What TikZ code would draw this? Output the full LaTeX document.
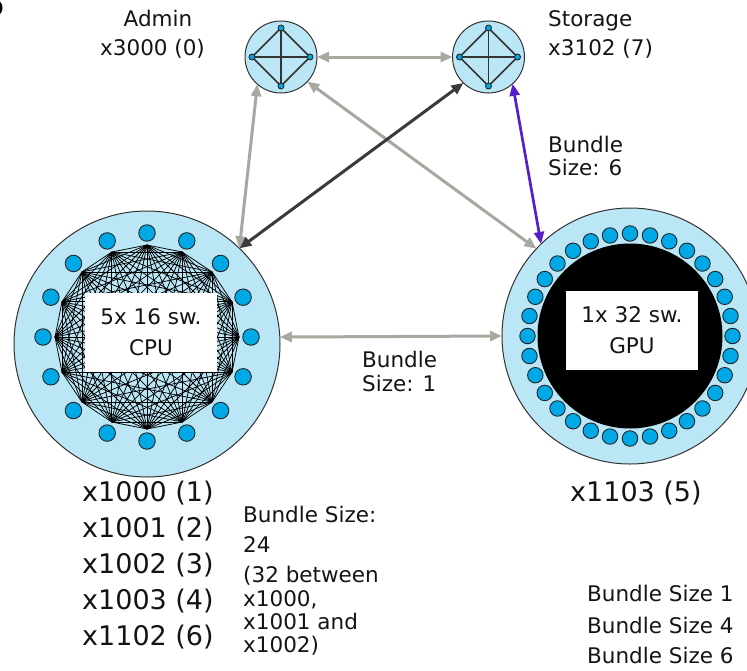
\documentclass[tikz,border=0pt]{standalone}
\usepackage{fontspec}
\setmainfont{DejaVu Sans}
\usetikzlibrary{arrows.meta,calc}

\definecolor{ringfill}{RGB}{186,230,245}
\definecolor{portblue}{RGB}{0,168,230}
\definecolor{linkgray}{RGB}{168,168,160}
\definecolor{linkdark}{RGB}{58,58,58}
\definecolor{linkpurple}{RGB}{88,30,200}
\definecolor{inkblack}{RGB}{20,20,20}

\begin{document}
\begin{tikzpicture}[x=1pt,y=-1pt,
  chassis/.style={circle, draw=black!80, line width=1pt, fill=ringfill,
    inner sep=0pt, outer sep=0pt},
  port/.style={circle, draw=black!85, line width=0.9pt, fill=portblue,
    inner sep=0pt, minimum size=#1},
  wire/.style={line width=#1, draw=black},
  link/.style={line width=3pt,
    {Triangle[length=12pt,width=10pt]}-{Triangle[length=12pt,width=10pt]}},
  lbl/.style={inner sep=0pt, anchor=base west, text=inkblack,
    font=\fontsize{21.5}{23}\selectfont},
  biglbl/.style={lbl, font=\fontsize{27}{30}\selectfont},
  swbox/.style={fill=white, minimum width=132pt, minimum height=79pt,
    inner sep=0pt, align=center, text=inkblack,
    font=\fontsize{21.5}{31}\selectfont}
]
\useasboundingbox (0,0) rectangle (747,670);

% panel letter at the page corner
\begin{scope}
  \clip (0,0) rectangle (747,670);
  \node[inner sep=0pt, anchor=base east, font=\bfseries\fontsize{26}{26}\selectfont]
    (paneltag) at (4,15) {b};
\end{scope}

% ---- service switches: Admin and Storage ----
\node[chassis, minimum size=72pt] (admin) at (281,57) {};
\node[chassis, minimum size=72pt] (storage) at (488.5,57) {};
\foreach \s in {admin,storage}{
  \foreach \i in {0,...,3}
    \coordinate (\s-v\i) at ($(\s.center)+(\i*90:29)$);
  \foreach \i in {0,...,2}{
    \pgfmathtruncatemacro\nx{\i+1}
    \foreach \j in {\nx,...,3}
      \draw[wire=1.5pt, draw=black!80] (\s-v\i) -- (\s-v\j);
  }
  \foreach \i in {0,...,3}
    \node[port=6pt] (\s-p\i) at (\s-v\i) {};
}

% ---- CPU group: 16 switches, all-to-all ----
\node[chassis, minimum size=266pt] (cpu) at (147,344) {};
\coordinate (cpuhub) at (147,337);
\foreach \i in {0,...,15}
  \coordinate (cpu-v\i) at ($(cpuhub)+(90+\i*22.5:92)$);
\foreach \i in {0,...,14}{
  \pgfmathtruncatemacro\nx{\i+1}
  \foreach \j in {\nx,...,15}
    \draw[wire=0.75pt] (cpu-v\i) -- (cpu-v\j);
}
\foreach \i in {0,...,15}
  \node[port=16.5pt] (cpu-p\i) at ($(cpuhub)+(90+\i*22.5:104)$) {};
\node[swbox] (cpubox) at (151,332) {5x 16 sw.\\CPU};

% ---- GPU group: 32 switches, all-to-all ----
\node[chassis, minimum size=256pt] (gpu) at (630,336) {};
\fill[black] (gpu.center) circle[radius=92.5pt];
\foreach \i in {0,...,31}
  \node[port=15.5pt] (gpu-p\i) at ($(gpu.center)+(90+\i*11.25:102.5)$) {};
\node[swbox] (gpubox) at (632,330) {1x 32 sw.\\GPU};

% ---- inter-group bundles ----
\draw[link, linkgray] (admin.east) -- (storage.west);
\draw[link, linkgray] (admin.229) -- (cpu.46);
\draw[link, linkgray] (admin.-43) -- (gpu.137);
\draw[link, linkgray] (cpu.3.5) -- (gpu.west);
\draw[link, linkdark] (storage.226) -- (cpu.46.5);
\draw[link, linkpurple, line width=2.7pt] (storage.-48) -- (gpu.134);

% ---- labels ----
\node[lbl, anchor=base] (adminname) at (158,26) {Admin};
\node[lbl] (adminid) at (100,55) {x3000 (0)};
\node[lbl] (storagename) at (548,26) {Storage};
\node[lbl] (storageid) at (548,55) {x3102 (7)};

\node[lbl] (b6a) at (548,152) {Bundle};
\node[lbl] (b6b) at (548,175) {Size: 6};
\node[lbl] (b1a) at (362,367) {Bundle};
\node[lbl] (b1b) at (362,391) {Size: 1};

\node[biglbl] (gpuid) at (570,501) {x1103 (5)};
\node[biglbl] (cpuid1) at (82,501) {x1000 (1)};
\node[biglbl] (cpuid2) at (82,537) {x1001 (2)};
\node[biglbl] (cpuid3) at (82,573) {x1002 (3)};
\node[biglbl] (cpuid4) at (82,609) {x1003 (4)};
\node[biglbl] (cpuid5) at (82,645) {x1102 (6)};

\node[lbl] (b24a) at (243,522) {Bundle Size:};
\node[lbl] (b24b) at (243,552) {24};
\node[lbl] (b24c) at (243,582) {(32 between};
\node[lbl] (b24d) at (243,606) {x1000,};
\node[lbl] (b24e) at (243,629) {x1001 and};
\node[lbl] (b24f) at (243,652) {x1002)};

\node[lbl] (key1) at (587,601) {Bundle Size 1};
\node[lbl] (key4) at (587,633) {Bundle Size 4};
\node[lbl] (key6) at (587,663) {Bundle Size 6};
\end{tikzpicture}
\end{document}
